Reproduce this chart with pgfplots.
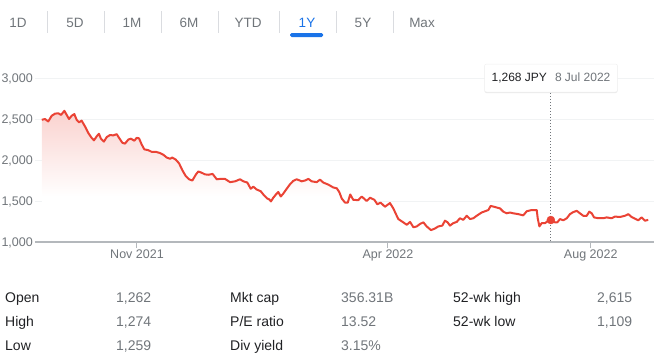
\documentclass[border=0pt]{standalone}
\usepackage{pgfplots}
\pgfplotsset{compat=1.18}
\usepackage{pgfplotstable}
\usepackage{fontspec}
\setmainfont{Liberation Sans}
\usetikzlibrary{shadows}
\definecolor{gred}{HTML}{EA4335}
\definecolor{dark}{HTML}{202124}
\definecolor{gtext}{HTML}{70757A}
\definecolor{gblue}{HTML}{1A73E8}
\definecolor{gridc}{HTML}{F1F3F4}
\definecolor{axisc}{HTML}{B4B8BC}
\definecolor{sepc}{HTML}{DADCE0}
\colorlet{fillpink}{gred!24!white}
\pgfdeclareverticalshading{fadered}{100bp}{color(0bp)=(white); color(25bp)=(white); color(42bp)=(white); color(75bp)=(fillpink); color(100bp)=(fillpink)}

\pgfplotstableread{
day price
-57.3 2490
-55.4 2500
-53.4 2470
-51.3 2540
-49.3 2565
-47.4 2570
-45.7 2550
-43.7 2600
-42.3 2550
-40.9 2500
-39.3 2540
-37.7 2560
-36.3 2490
-34.9 2460
-33.3 2480
-31.3 2410
-29.3 2330
-27.3 2270
-25.9 2240
-24.2 2290
-22.9 2320
-21.7 2260
-19.9 2225
-18.2 2280
-16.2 2305
-14.3 2300
-12.2 2315
-10.8 2270
-8.8 2210
-7.2 2200
-5.2 2250
-3.6 2260
-1.6 2235
-0.2 2270
1.2 2265
2.8 2190
4.4 2130
6.8 2120
8.8 2100
11.3 2100
13.8 2085
15.8 2065
17.9 2030
19.9 2015
21.2 2030
23.3 2005
25.3 1960
27.3 1875
29.3 1805
31.3 1765
33.3 1750
35.5 1825
36.9 1860
38.9 1845
40.9 1825
42.9 1820
45.5 1830
48.0 1765
50.4 1770
52.9 1770
56.0 1730
59.0 1740
62.0 1765
64.0 1740
66.4 1725
68.4 1650
70.0 1675
72.0 1640
74.4 1620
76.4 1570
78.4 1530
79.6 1520
80.6 1495
82.0 1540
83.6 1580
85.0 1610
86.5 1555
88.0 1590
90.1 1650
92.1 1705
94.0 1745
96.1 1765
99.1 1740
101.1 1750
103.1 1770
105.1 1740
108.1 1730
110.1 1760
112.1 1725
115.1 1700
118.1 1665
120.2 1655
121.7 1610
123.2 1530
125.2 1480
126.8 1480
128.3 1580
130.1 1515
133.1 1510
135.2 1555
138.2 1500
140.2 1540
142.8 1515
144.6 1460
146.6 1480
149.2 1430
152.2 1475
154.2 1410
157.2 1280
160.2 1240
162.3 1210
164.3 1245
166.3 1180
168.3 1190
170.3 1220
172.3 1240
174.3 1190
176.9 1145
179.3 1165
181.3 1190
183.7 1200
185.3 1260
186.9 1240
188.3 1200
190.3 1230
192.4 1245
194.3 1290
196.3 1270
198.4 1320
200.4 1280
202.4 1290
204.4 1320
207.4 1360
209.4 1375
211.4 1390
212.8 1440
214.8 1430
217.4 1415
218.4 1410
220.4 1370
222.4 1350
224.4 1360
226.4 1350
229.4 1340
232.4 1325
234.5 1375
237.5 1390
240.5 1390
241.1 1290
242.1 1190
243.5 1230
245.5 1230
247.5 1260
249.0 1268
251.5 1240
252.9 1240
254.5 1280
256.5 1265
258.6 1290
260.5 1340
262.5 1365
264.6 1380
266.5 1350
268.5 1320
270.6 1320
272.1 1370
273.6 1350
275.0 1300
277.6 1290
280.6 1290
282.6 1300
285.6 1290
287.6 1310
290.6 1305
293.6 1320
295.6 1340
297.6 1305
299.6 1285
301.6 1265
303.6 1300
305.6 1260
307.6 1270
}\stock

\begin{document}
\begin{tikzpicture}
\useasboundingbox (0pt,0pt) rectangle (670pt,-359pt);
% range tabs
\foreach \x/\t in {18/1D,75/5D,132/1M,189/6M,248/YTD,363/5Y,422/Max}
  \node[text=gtext, font=\fontsize{13.5}{16}\selectfont, inner sep=0pt] at (\x pt,-22.7pt) {\t};
\node[text=gblue, font=\fontsize{13.5}{16}\selectfont, inner sep=0pt] at (307pt,-22.7pt) {1Y};
\foreach \x in {47,104,161,218,279,336,393}
  \draw[sepc, line width=1pt] (\x pt,-11pt) -- (\x pt,-33pt);
\fill[gblue, rounded corners=1.5pt] (290pt,-33pt) rectangle (323pt,-37pt);

\begin{axis}[
  at={(35pt,-242pt)}, anchor=south west,
  scale only axis, width=619pt, height=164pt,
  xmin=-61.37, xmax=311.07, ymin=1000, ymax=3000,
  axis x line*=bottom, axis y line*=left,
  x axis line style={draw=axisc, line width=2pt},
  every outer x axis line/.append style={draw=axisc, line width=2pt},
  y axis line style={draw=none},
  xtick={0,151,273},
  xticklabels={Nov 2021, Apr 2022, Aug 2022},
  ytick={1000,1500,2000,2500,3000},
  yticklabels={{1,000},{1,500},{2,000},{2,500},{3,000}},
  extra y ticks={1500,2000,2500,3000},
  extra y tick labels={},
  extra y tick style={grid=major, tick style={draw=none}},
  tick align=outside,
  major tick length=6pt,
  xtick style={draw=axisc, line width=1pt},
  ytick style={draw=none},
  grid style={draw=gridc, line width=1pt},
  tick label style={text=gtext, font=\fontsize{12.5}{15}\selectfont},
  yticklabel style={inner sep=1pt, xshift=5pt, yshift=-1pt},
  xticklabel style={inner sep=1.5pt},
]
\addplot[draw=none, shading=fadered] table[x=day, y=price] {\stock} -- (307.6,1015) -- (-57.3,1015) -- cycle;
\addplot[gred, line width=2pt, line join=round] table[x=day, y=price] {\stock};
\addplot[gtext, dash pattern=on 1pt off 2pt, line width=0.8pt] coordinates {(249,1013) (249,2818)};
\addplot[only marks, mark=*, mark size=4pt, mark options={fill=gred, draw=gred}] coordinates {(249,1268)};
\end{axis}

% tooltip
\node[fill=white, draw=black!6, line width=0.5pt, rounded corners=2pt,
  drop shadow={opacity=0.18, shadow xshift=0pt, shadow yshift=-1pt},
  minimum width=133pt, minimum height=28pt, inner sep=0pt,
  font=\fontsize{12}{14}\selectfont] at (551pt,-78pt)
  {\textcolor{dark}{1,268 JPY}\hspace{8pt}\textcolor{gtext}{8 Jul 2022}};

% stats
\begin{scope}[every node/.style={anchor=base west, inner sep=0pt, font=\fontsize{14}{16}\selectfont}]
\node[text=dark] at (5pt,-302pt) {Open};
\node[text=dark] at (5pt,-326pt) {High};
\node[text=dark] at (5pt,-350pt) {Low};
\node[text=gtext] at (116pt,-302pt) {1,262};
\node[text=gtext] at (116pt,-326pt) {1,274};
\node[text=gtext] at (116pt,-350pt) {1,259};
\node[text=dark] at (230pt,-302pt) {Mkt cap};
\node[text=dark] at (230pt,-326pt) {P/E ratio};
\node[text=dark] at (230pt,-350pt) {Div yield};
\node[text=gtext] at (341pt,-302pt) {356.31B};
\node[text=gtext] at (341pt,-326pt) {13.52};
\node[text=gtext] at (341pt,-350pt) {3.15\%};
\node[text=dark] at (453pt,-302pt) {52-wk high};
\node[text=dark] at (453pt,-326pt) {52-wk low};
\node[text=gtext] at (597pt,-302pt) {2,615};
\node[text=gtext] at (597pt,-326pt) {1,109};
\end{scope}
\end{tikzpicture}
\end{document}
